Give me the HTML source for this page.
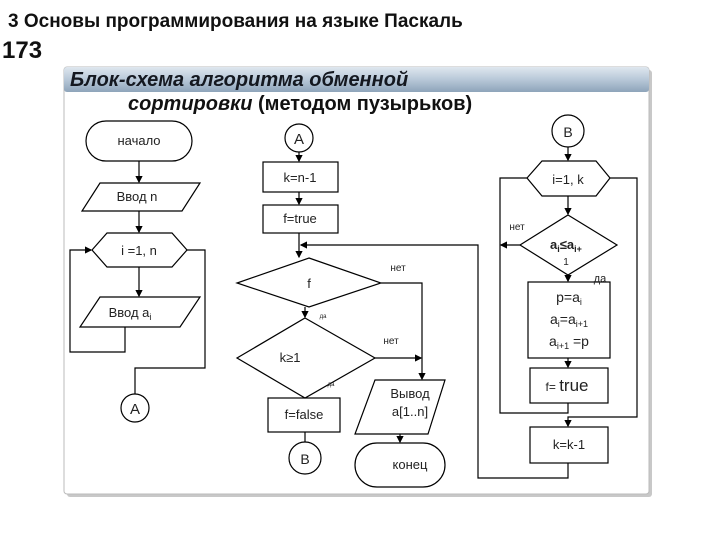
<!DOCTYPE html>
<html><head><meta charset="utf-8"><style>
html,body{margin:0;padding:0;background:#fff;}
svg{display:block;font-family:"Liberation Sans",Arial,sans-serif;}
</style></head><body>
<svg width="720" height="540" viewBox="0 0 720 540" xmlns="http://www.w3.org/2000/svg">
<defs>
<linearGradient id="tb" x1="0" y1="0" x2="0" y2="1"><stop offset="0" stop-color="#dfe7ef"/><stop offset="0.5" stop-color="#b8c8d8"/><stop offset="1" stop-color="#8ea4ba"/></linearGradient>
<marker id="ar" markerWidth="6" markerHeight="6" refX="5" refY="3" orient="auto"><path d="M0,0 L6,3 L0,6 z" fill="#000"/></marker>
</defs>
<text x="8" y="27" font-size="19" font-weight="bold" fill="#111">3 Основы программирования на языке Паскаль</text>
<text x="2" y="58" font-size="24" font-weight="bold" fill="#111">173</text>
<rect x="67" y="70" width="585" height="427" fill="#c8c8c8" rx="3"/>
<rect x="64" y="67" width="585" height="427" fill="#fff" stroke="#bbb" rx="3"/>
<rect x="64" y="67" width="585" height="25" fill="url(#tb)" rx="3"/>
<text x="70" y="86" font-size="20" font-weight="bold" font-style="italic" fill="#141820">Блок-схема алгоритма обменной</text>
<text x="128" y="110" font-size="20" font-weight="bold" fill="#111"><tspan font-style="italic">сортировки</tspan> (методом пузырьков)</text>
<g fill="none" stroke="#000" stroke-width="1.2">
<rect x="86" y="121" width="106" height="40" rx="20"/>
<line x1="139" y1="161" x2="139" y2="182" marker-end="url(#ar)"/>
<polygon points="100,183 200,183 182,211 82,211"/>
<line x1="139" y1="211" x2="139" y2="232" marker-end="url(#ar)"/>
<polygon points="92,250 107,233 172,233 187,250 172,267 107,267"/>
<line x1="139" y1="267" x2="139" y2="296" marker-end="url(#ar)"/>
<polygon points="100,297 200,297 180,327 80,327"/>
<polyline points="125,327 125,352 70,352 70,250 91,250" marker-end="url(#ar)"/>
<polyline points="187,250 205,250 205,368 135,368 135,394"/>
<circle cx="135" cy="408" r="14"/>
<circle cx="299" cy="138" r="14"/>
<line x1="299" y1="152" x2="299" y2="161" marker-end="url(#ar)"/>
<rect x="263" y="162" width="75" height="30"/>
<line x1="299" y1="192" x2="299" y2="204" marker-end="url(#ar)"/>
<rect x="263" y="205" width="75" height="28"/>
<line x1="299" y1="233" x2="299" y2="257" marker-end="url(#ar)"/>
<polygon points="309,258 381,283 309,307 237,283"/>
<polyline points="381,283 422,283 422,379" marker-end="url(#ar)"/>
<line x1="305" y1="307" x2="305" y2="317" marker-end="url(#ar)"/>
<polygon points="305,318 375,358 305,398 237,358"/>
<line x1="375" y1="358" x2="421" y2="358" marker-end="url(#ar)"/>
<rect x="268" y="398" width="72" height="34"/>
<line x1="305" y1="432" x2="305" y2="442"/>
<circle cx="305" cy="458" r="16"/>
<polygon points="375,380 445,380 428,434 355,434"/>
<line x1="400" y1="434" x2="400" y2="442" marker-end="url(#ar)"/>
<rect x="355" y="443" width="90" height="44" rx="22"/>
<circle cx="568" cy="131" r="16"/>
<line x1="568" y1="147" x2="568" y2="160" marker-end="url(#ar)"/>
<polygon points="527,178 542,161 596,161 610,178 596,196 542,196"/>
<line x1="568" y1="196" x2="568" y2="214" marker-end="url(#ar)"/>
<polygon points="568,215 617,245 568,275 520,245"/>
<line x1="520" y1="245" x2="501" y2="245" marker-end="url(#ar)"/>
<line x1="568" y1="275" x2="568" y2="281" marker-end="url(#ar)"/>
<rect x="528" y="282" width="82" height="76"/>
<line x1="568" y1="358" x2="568" y2="367" marker-end="url(#ar)"/>
<rect x="530" y="368" width="78" height="35"/>
<polyline points="568,403 568,413 500,413 500,178 527,178"/>
<polyline points="610,178 637,178 637,417 568,417 568,426" marker-end="url(#ar)"/>
<rect x="530" y="427" width="78" height="36"/>
<polyline points="568,463 568,478 478,478 478,245 301,245" marker-end="url(#ar)"/>
</g>
<g font-size="13" fill="#222" text-anchor="middle">
<text x="139" y="145">начало</text>
<text x="137" y="201">Ввод n</text>
<text x="139" y="255">i =1, n</text>
<text x="130" y="317">Ввод  a<tspan font-size="9" dy="3">i</tspan></text>
<text x="135" y="414" font-size="15">A</text>
<text x="299" y="144" font-size="15">A</text>
<text x="300" y="182">k=n-1</text>
<text x="300" y="223">f=true</text>
<text x="309" y="288">f</text>
<text x="398" y="271" font-size="10">нет</text>
<text x="323" y="318" font-size="6">да</text>
<text x="290" y="362">k≥1</text>
<text x="391" y="344" font-size="10">нет</text>
<text x="331" y="386" font-size="6">да</text>
<text x="304" y="419">f=false</text>
<text x="305" y="464" font-size="14">B</text>
<text x="410" y="398">Вывод</text>
<text x="410" y="416">a[1..n]</text>
<text x="410" y="469">конец</text>
<text x="568" y="137" font-size="14">B</text>
<text x="568" y="184">i=1, k</text>
<text x="517" y="230" font-size="10">нет</text>
<text x="566" y="249" font-weight="bold">a<tspan font-size="9" dy="3">i</tspan><tspan dy="-3">≤a</tspan><tspan font-size="9" dy="3">i+</tspan></text>
<text x="566" y="265" font-size="10">1</text>
<text x="600" y="282" font-size="11">да</text>
<text x="569" y="302" font-size="14">p=a<tspan font-size="9" dy="3">i</tspan></text>
<text x="569" y="324" font-size="14">a<tspan font-size="9" dy="3">i</tspan><tspan dy="-3">=a</tspan><tspan font-size="9" dy="3">i+1</tspan></text>
<text x="569" y="346" font-size="14">a<tspan font-size="9" dy="3">i+1</tspan><tspan dy="-3"> =p</tspan></text>
<text x="567" y="391" font-size="12">f= <tspan font-size="17">true</tspan></text>
<text x="569" y="449">k=k-1</text>
</g>
</svg>
</body></html>
